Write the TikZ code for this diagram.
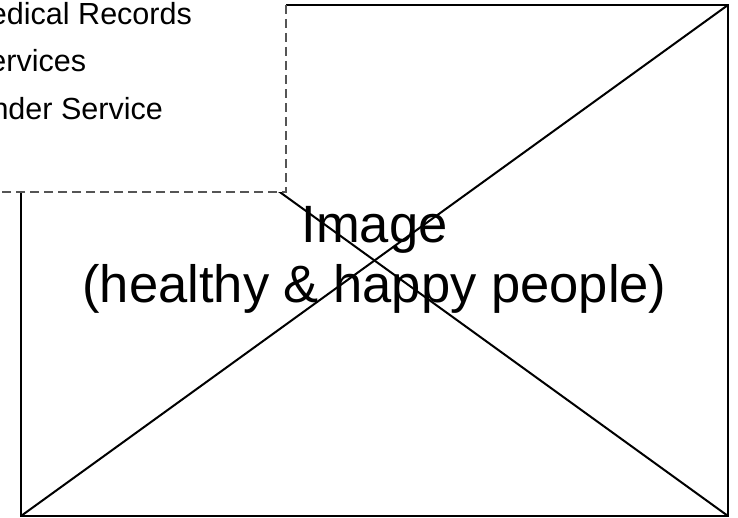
\documentclass[tikz,border=0pt]{standalone}
\usepackage{fontspec}
\setmainfont{Liberation Sans}
\definecolor{dashgray}{HTML}{555555}
\begin{document}
\begin{tikzpicture}[x=.75pt, y=-.75pt, line width=1.5pt,
		menu/.style={font=\fontsize{22.9}{27}\selectfont, anchor=base west, inner sep=0pt},
		big/.style={font=\fontsize{39.4}{47}\selectfont, anchor=base, inner sep=0pt}]
	\useasboundingbox (0, 0) rectangle (738, 517);
	\clip (0, 0) rectangle (738, 517);
		% image placeholder
		\coordinate (tl) at (21, 5);
		\coordinate (tr) at (728, 5);
		\coordinate (bl) at (21, 516);
		\coordinate (br) at (728, 516);
		\draw(tl) rectangle (br);
		\draw(tl) to (br);
		\draw(bl) to (tr);

		% menu overlay
		\coordinate (mtop) at (286, 5);
		\coordinate (mcorner) at (286, 192);
		\coordinate (mleft) at (-10, 192);
		\fill[white](-10, -10) rectangle (mcorner);
		\draw[dashgray, line width=1.5pt, dash pattern=on 6.75pt off 3.75pt](mtop) to (mcorner) to (mleft);
			\node[menu] (records) at(-11, 25){edical Records};
			\node[menu] (services) at(-11.6, 71.5){ervices};
			\node[menu] (finder) at(-9.5, 119){nder Service};

		\node[big] (title) at(374.5, 242){Image};
		\node[big] (caption) at(374.5, 302){(healthy \& happy people)};
\end{tikzpicture}
\end{document}
